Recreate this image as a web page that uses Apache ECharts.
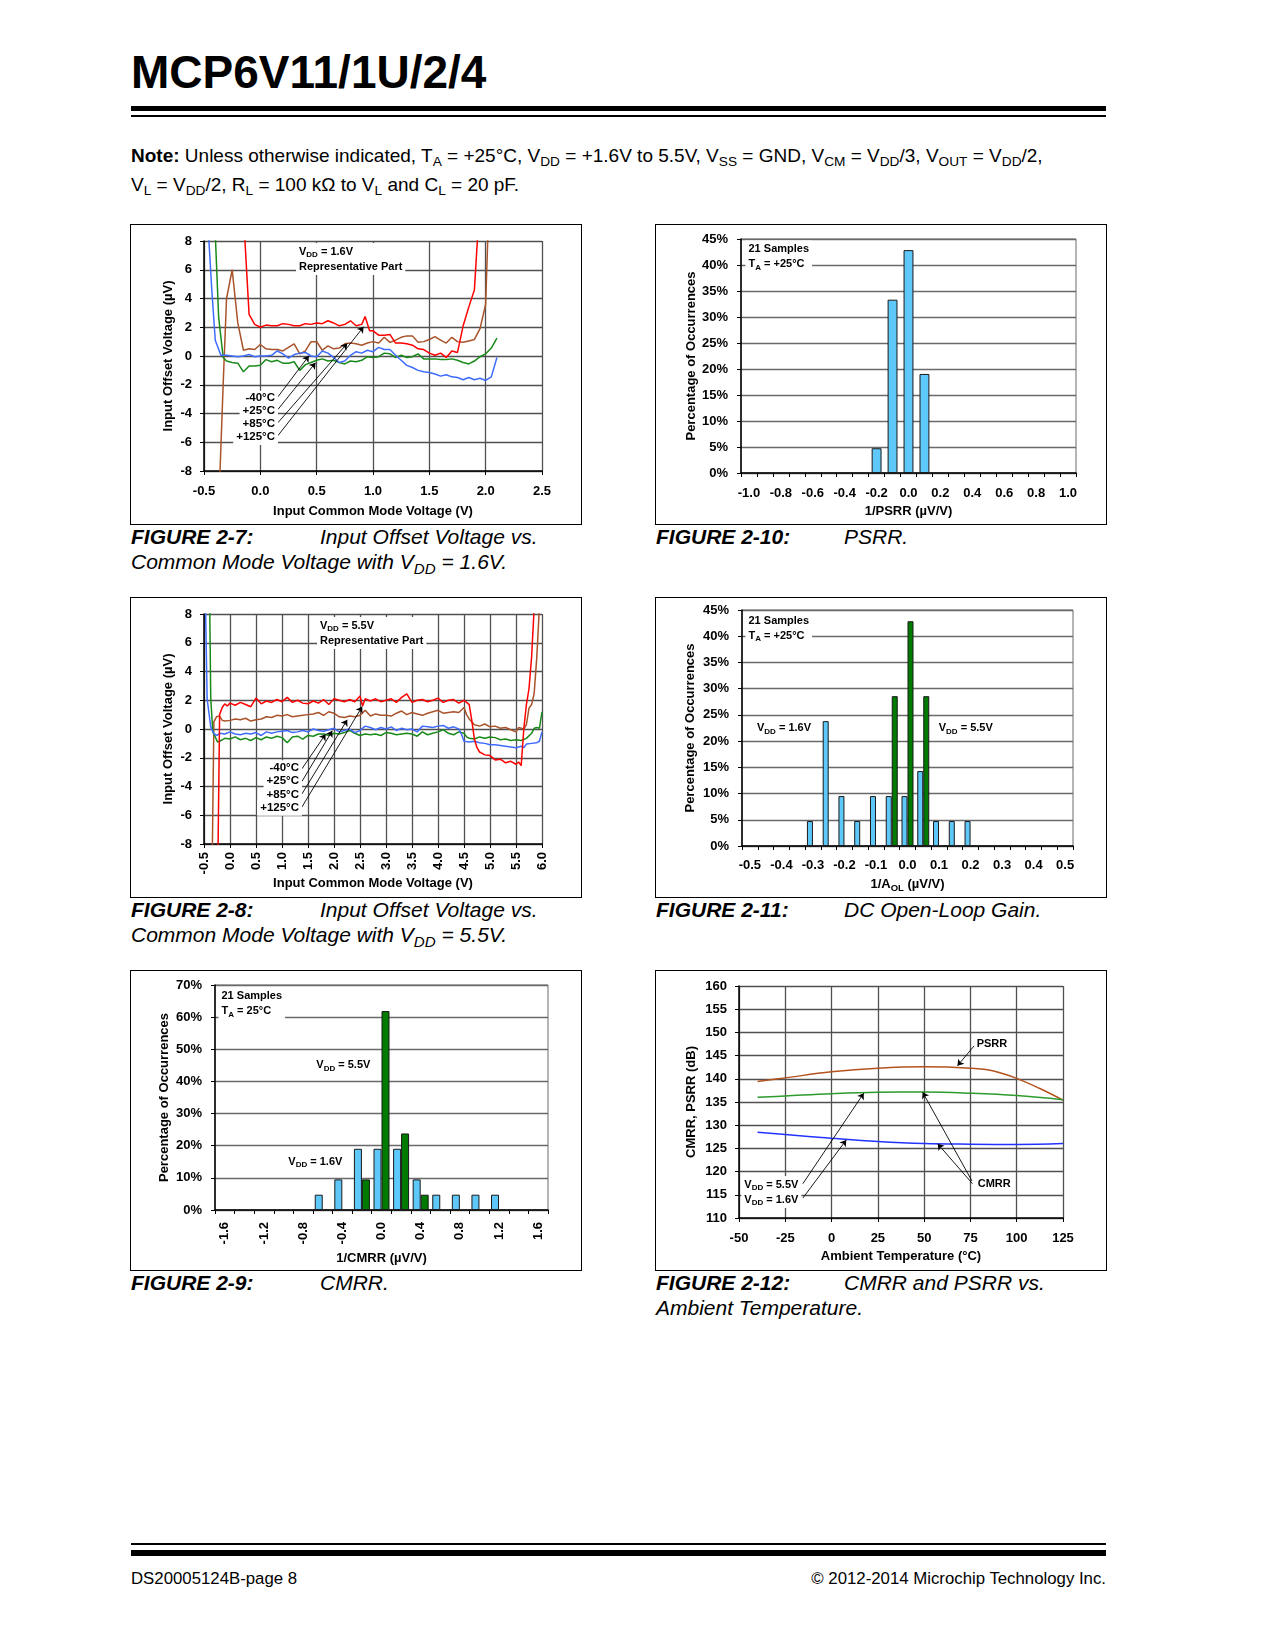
<!DOCTYPE html>
<html><head><meta charset="utf-8">
<script src="https://cdn.jsdelivr.net/npm/echarts/dist/echarts.min.js"></script>
<style>
html,body{margin:0;padding:0;background:#fff;}
body{width:1275px;height:1650px;position:relative;font-family:"Liberation Sans",Arial,Helvetica,sans-serif;color:#000;overflow:hidden;}
.abs{position:absolute;white-space:nowrap;}
.fig{position:absolute;width:450px;height:299px;outline:1px solid #000;}
.cap{position:absolute;font-size:21px;line-height:25px;font-style:italic;white-space:nowrap;}
.cap b{font-weight:bold;}
sub{font-size:0.72em;vertical-align:-0.3em;line-height:0;}
</style></head>
<body>
<div class="abs" style="left:131px;top:48.5px;font-size:46px;line-height:46px;font-weight:bold;">MCP6V11/1U/2/4</div>
<div class="abs" style="left:131px;top:105.5px;width:975px;height:5.5px;background:#000;"></div>
<div class="abs" style="left:131px;top:115px;width:975px;height:2px;background:#000;"></div>
<div class="abs" style="left:131px;top:144.5px;font-size:19px;line-height:22px;"><b>Note:</b> Unless otherwise indicated, T<sub>A</sub> = +25°C, V<sub>DD</sub> = +1.6V to 5.5V, V<sub>SS</sub> = GND, V<sub>CM</sub> = V<sub>DD</sub>/3, V<sub>OUT</sub> = V<sub>DD</sub>/2,</div>
<div class="abs" style="left:131px;top:173.5px;font-size:19px;line-height:22px;">V<sub>L</sub> = V<sub>DD</sub>/2, R<sub>L</sub> = 100 kΩ to V<sub>L</sub> and C<sub>L</sub> = 20 pF.</div>

<div id="c1" class="fig" style="left:131px;top:225px;"></div>
<div id="c2" class="fig" style="left:656px;top:225px;"></div>
<div id="c3" class="fig" style="left:131px;top:598px;"></div>
<div id="c4" class="fig" style="left:656px;top:598px;"></div>
<div id="c5" class="fig" style="left:131px;top:971px;"></div>
<div id="c6" class="fig" style="left:656px;top:971px;"></div>

<div class="cap" style="left:131px;top:524px;"><b>FIGURE 2-7:</b></div>
<div class="cap" style="left:320px;top:524px;">Input Offset Voltage vs.</div>
<div class="cap" style="left:131px;top:548.5px;">Common Mode Voltage with V<sub>DD</sub> = 1.6V.</div>
<div class="cap" style="left:656px;top:524px;"><b>FIGURE 2-10:</b></div>
<div class="cap" style="left:844px;top:524px;">PSRR.</div>

<div class="cap" style="left:131px;top:897px;"><b>FIGURE 2-8:</b></div>
<div class="cap" style="left:320px;top:897px;">Input Offset Voltage vs.</div>
<div class="cap" style="left:131px;top:921.5px;">Common Mode Voltage with V<sub>DD</sub> = 5.5V.</div>
<div class="cap" style="left:656px;top:897px;"><b>FIGURE 2-11:</b></div>
<div class="cap" style="left:844px;top:897px;">DC Open-Loop Gain.</div>

<div class="cap" style="left:131px;top:1270px;"><b>FIGURE 2-9:</b></div>
<div class="cap" style="left:320px;top:1270px;">CMRR.</div>
<div class="cap" style="left:656px;top:1270px;"><b>FIGURE 2-12:</b></div>
<div class="cap" style="left:844px;top:1270px;">CMRR and PSRR vs.</div>
<div class="cap" style="left:656px;top:1294.5px;">Ambient Temperature.</div>

<div class="abs" style="left:131px;top:1543px;width:975px;height:2px;background:#000;"></div>
<div class="abs" style="left:131px;top:1550px;width:975px;height:6px;background:#000;"></div>
<div class="abs" style="left:131px;top:1568.5px;font-size:16.8px;line-height:19px;">DS20005124B-page 8</div>
<div class="abs" style="right:169px;top:1568.5px;font-size:16.8px;line-height:19px;">© 2012-2014 Microchip Technology Inc.</div>

<script>
// ---------------- DATA ----------------
// Figure 2-7 (VDD = 1.6V): [VCM (V), VOS (µV)]
const fig7_m40 = [[-0.46,8.5],[-0.43,4.5],[-0.4,1.1],[-0.35,0.05],[-0.3,0.05],[-0.25,0.0],[-0.2,-0.05],[-0.15,0.0],[-0.1,0.1],[-0.05,-0.05],[0.0,0.0],[0.05,0.0],[0.1,0.05],[0.15,0.35],[0.2,0.15],[0.25,-0.15],[0.3,0.1],[0.35,0.2],[0.4,0.25],[0.45,0.0],[0.5,-0.05],[0.55,0.35],[0.6,0.2],[0.65,-0.1],[0.7,-0.45],[0.75,-0.35],[0.8,0.05],[0.85,0.3],[0.9,0.2],[0.95,0.4],[1.0,0.3],[1.05,0.6],[1.1,0.45],[1.15,0.45],[1.2,0.05],[1.25,-0.3],[1.3,-0.65],[1.35,-0.8],[1.4,-1.0],[1.45,-1.1],[1.5,-1.15],[1.55,-1.25],[1.6,-1.4],[1.65,-1.3],[1.7,-1.45],[1.75,-1.5],[1.8,-1.65],[1.85,-1.5],[1.9,-1.65],[1.95,-1.55],[2.0,-1.7],[2.05,-1.45],[2.1,-0.1]];
const fig7_p25 = [[-0.4,8.5],[-0.37,2.7],[-0.33,-0.1],[-0.3,-0.35],[-0.25,-0.45],[-0.2,-0.5],[-0.15,-1.1],[-0.1,-0.7],[-0.05,-0.7],[0.0,-0.65],[0.05,-0.25],[0.1,-0.4],[0.15,-0.3],[0.2,-0.5],[0.25,-0.5],[0.3,-0.4],[0.35,-1.0],[0.4,-0.6],[0.45,-0.45],[0.5,-0.3],[0.55,-0.2],[0.6,-0.35],[0.65,-0.3],[0.7,-0.45],[0.75,-0.55],[0.8,-0.35],[0.85,-0.4],[0.9,-0.3],[0.95,-0.05],[1.0,-0.1],[1.05,-0.05],[1.1,0.2],[1.15,0.15],[1.2,-0.1],[1.25,0.05],[1.3,-0.1],[1.35,-0.05],[1.4,0.15],[1.45,-0.2],[1.5,-0.2],[1.55,-0.2],[1.6,-0.25],[1.65,-0.25],[1.7,-0.2],[1.75,-0.3],[1.8,-0.45],[1.85,-0.55],[1.9,-0.35],[1.95,-0.05],[2.0,0.15],[2.05,0.55],[2.1,1.25]];
const fig7_p85 = [[-0.36,-8.5],[-0.33,-2.0],[-0.3,4.0],[-0.25,6.0],[-0.2,2.3],[-0.15,0.4],[-0.1,0.5],[-0.05,0.45],[0.0,0.8],[0.05,0.5],[0.1,0.45],[0.15,0.45],[0.2,0.35],[0.25,0.6],[0.3,0.85],[0.35,0.15],[0.4,0.35],[0.45,1.0],[0.5,1.0],[0.55,0.4],[0.6,0.7],[0.65,0.5],[0.7,0.55],[0.75,0.85],[0.8,0.9],[0.85,0.85],[0.9,0.75],[0.95,0.9],[1.0,1.0],[1.05,0.9],[1.1,1.3],[1.15,0.95],[1.2,1.1],[1.25,1.3],[1.3,1.4],[1.35,1.4],[1.4,0.95],[1.45,1.0],[1.5,1.15],[1.55,1.35],[1.6,1.1],[1.65,0.9],[1.7,1.3],[1.75,1.0],[1.8,0.95],[1.85,1.05],[1.9,1.15],[1.95,1.9],[2.0,3.6],[2.02,8.5]];
const fig7_p125 = [[-0.14,8.5],[-0.1,2.9],[-0.05,2.2],[0.0,2.0],[0.05,2.15],[0.1,2.1],[0.15,2.1],[0.2,2.25],[0.25,2.2],[0.3,2.1],[0.35,2.1],[0.4,2.25],[0.45,2.2],[0.5,2.3],[0.55,2.25],[0.6,2.45],[0.65,2.3],[0.7,2.1],[0.75,2.2],[0.8,2.45],[0.85,2.1],[0.9,2.2],[0.93,2.75],[0.97,1.75],[1.0,1.75],[1.05,1.45],[1.1,1.45],[1.15,1.5],[1.2,0.9],[1.25,0.9],[1.3,0.85],[1.35,0.75],[1.4,0.5],[1.45,0.45],[1.5,0.2],[1.55,0.05],[1.6,0.2],[1.65,-0.1],[1.7,0.35],[1.75,0.25],[1.8,2.1],[1.85,3.4],[1.9,4.6],[1.93,8.5]];
const fig7_arrowFrom = [[0.156,-2.84],[0.156,-3.72],[0.156,-4.64],[0.156,-5.54]];
const fig7_arrowTo = [[0.431,0.01],[0.49,-0.47],[0.771,0.87],[0.916,2.03]];

// Figure 2-8 (VDD = 5.5V)
const fig8_m40 = [[-0.47,8.5],[-0.44,2.1],[-0.37,0.15],[-0.33,-0.2],[-0.3,-0.35],[-0.25,-0.45],[-0.2,-0.3],[-0.1,-0.35],[0.0,-0.2],[0.1,-0.35],[0.2,-0.4],[0.3,-0.3],[0.4,-0.35],[0.5,-0.25],[0.6,-0.45],[0.7,-0.2],[0.8,-0.3],[0.9,-0.2],[1.0,-0.15],[1.1,-0.1],[1.2,-0.25],[1.3,-0.2],[1.4,-0.1],[1.5,-0.2],[1.6,0.0],[1.7,-0.1],[1.8,-0.15],[1.9,-0.05],[2.0,0.05],[2.1,-0.2],[2.2,-0.1],[2.3,0.0],[2.4,-0.25],[2.5,-0.1],[2.6,0.2],[2.7,0.1],[2.8,-0.05],[2.9,0.1],[3.0,0.0],[3.1,0.15],[3.2,-0.1],[3.3,0.05],[3.4,-0.05],[3.5,0.0],[3.6,-0.2],[3.7,0.2],[3.8,0.15],[3.9,0.1],[4.0,0.2],[4.1,0.25],[4.2,0.05],[4.3,0.15],[4.4,0.0],[4.45,-0.35],[4.5,-0.85],[4.6,-0.9],[4.7,-0.85],[4.8,-0.95],[4.9,-1.0],[5.0,-1.1],[5.1,-1.1],[5.2,-1.15],[5.3,-1.2],[5.4,-1.25],[5.5,-1.3],[5.6,-1.2],[5.65,-1.3],[5.7,-1.05],[5.8,-1.0],[5.9,-0.95],[5.95,-0.85],[6.0,-0.2]];
const fig8_p25 = [[-0.39,8.5],[-0.37,2.1],[-0.33,-0.2],[-0.24,-0.9],[-0.2,-0.85],[-0.1,-0.65],[0.0,-0.7],[0.1,-0.55],[0.2,-0.75],[0.3,-0.65],[0.4,-0.8],[0.5,-0.6],[0.6,-0.75],[0.7,-0.55],[0.8,-0.65],[0.9,-0.5],[1.0,-0.6],[1.1,-0.95],[1.2,-0.55],[1.3,-0.5],[1.4,-0.7],[1.5,-0.45],[1.6,-0.5],[1.7,-0.35],[1.8,-0.35],[1.9,-0.45],[2.0,-0.3],[2.1,-0.35],[2.2,-0.25],[2.3,-0.1],[2.4,-0.3],[2.5,-0.45],[2.6,-0.35],[2.7,-0.4],[2.8,-0.35],[2.9,-0.45],[3.0,-0.25],[3.1,-0.3],[3.2,-0.4],[3.3,-0.35],[3.4,-0.3],[3.5,-0.35],[3.6,-0.5],[3.7,-0.2],[3.8,-0.4],[3.9,-0.3],[4.0,-0.2],[4.1,-0.05],[4.2,-0.3],[4.3,-0.4],[4.4,-0.2],[4.5,-0.3],[4.55,-0.55],[4.6,-0.65],[4.7,-0.7],[4.8,-0.55],[4.9,-0.65],[5.0,-0.55],[5.1,-0.6],[5.2,-0.75],[5.3,-0.7],[5.4,-0.8],[5.5,-0.75],[5.6,-0.8],[5.7,-0.65],[5.8,-0.3],[5.85,0.05],[5.9,0.1],[5.95,0.05],[6.0,1.2]];
const fig8_p85 = [[-0.34,-8.5],[-0.31,0.5],[-0.26,0.85],[-0.2,0.9],[-0.15,0.6],[-0.1,0.55],[0.0,0.6],[0.1,0.7],[0.2,0.65],[0.3,0.75],[0.4,0.55],[0.5,0.65],[0.6,0.7],[0.7,0.85],[0.8,0.8],[0.9,0.95],[1.0,0.9],[1.1,1.0],[1.2,0.85],[1.3,0.9],[1.4,0.95],[1.5,1.0],[1.6,1.05],[1.7,1.15],[1.8,0.95],[1.9,1.2],[2.0,1.1],[2.1,0.85],[2.2,0.8],[2.3,0.9],[2.4,0.85],[2.5,0.95],[2.6,1.3],[2.7,0.9],[2.8,1.05],[2.9,0.95],[3.0,0.95],[3.1,0.9],[3.2,1.1],[3.3,1.25],[3.4,1.0],[3.5,1.15],[3.6,1.05],[3.7,0.95],[3.8,1.1],[3.9,1.2],[4.0,1.3],[4.1,1.1],[4.2,1.15],[4.3,1.2],[4.4,1.15],[4.5,1.5],[4.55,1.0],[4.6,0.7],[4.7,0.3],[4.8,0.2],[4.9,0.35],[5.0,0.15],[5.1,0.2],[5.2,0.05],[5.3,0.1],[5.4,-0.05],[5.5,-0.2],[5.55,0.1],[5.6,0.05],[5.65,0.0],[5.7,0.3],[5.75,1.45],[5.8,1.7],[5.85,2.5],[5.9,5.0],[5.95,8.5]];
const fig8_p125 = [[-0.23,-8.5],[-0.2,1.0],[-0.15,1.5],[-0.1,1.75],[-0.05,1.6],[0.0,1.8],[0.1,1.65],[0.2,1.85],[0.3,1.7],[0.4,1.55],[0.5,2.15],[0.6,1.75],[0.7,1.95],[0.8,1.85],[0.9,2.05],[1.0,1.9],[1.1,2.2],[1.2,1.85],[1.3,2.0],[1.4,1.8],[1.5,1.75],[1.6,1.95],[1.7,1.8],[1.8,2.05],[1.9,1.7],[2.0,2.1],[2.1,2.0],[2.2,1.9],[2.3,2.05],[2.4,1.9],[2.5,2.3],[2.55,1.6],[2.6,2.1],[2.7,1.95],[2.8,2.1],[2.9,1.9],[3.0,2.0],[3.1,2.1],[3.2,1.85],[3.3,2.2],[3.4,2.45],[3.5,1.85],[3.6,2.0],[3.7,2.05],[3.8,1.9],[3.9,2.0],[4.0,2.15],[4.1,1.85],[4.2,2.0],[4.3,2.05],[4.4,1.8],[4.5,2.0],[4.55,1.85],[4.6,1.7],[4.65,0.6],[4.7,-0.7],[4.75,-1.3],[4.8,-1.6],[4.9,-1.8],[5.0,-1.85],[5.1,-2.15],[5.2,-2.1],[5.3,-2.35],[5.4,-2.25],[5.5,-2.45],[5.55,-2.3],[5.6,-2.55],[5.65,0.0],[5.7,1.7],[5.75,2.8],[5.8,5.0],[5.85,8.5]];
const fig8_arrowFrom = [[1.383,-2.77],[1.383,-3.65],[1.383,-4.52],[1.383,-5.43]];
const fig8_arrowTo = [[1.838,-0.36],[1.966,-0.13],[2.254,0.64],[2.542,1.56]];

// Figure 2-10 PSRR histogram
const fig10_bins = ['-1.0','-0.9','-0.8','-0.7','-0.6','-0.5','-0.4','-0.3','-0.2','-0.1','0.0','0.1','0.2','0.3','0.4','0.5','0.6','0.7','0.8','0.9','1.0'];
const fig10_pct = [0,0,0,0,0,0,0,0,4.76,33.33,42.86,19.05,0,0,0,0,0,0,0,0,0];

// Figure 2-11 DC open-loop gain histogram
const fig11_bins = ['-0.5','-0.45','-0.4','-0.35','-0.3','-0.25','-0.2','-0.15','-0.1','-0.05','0.0','0.05','0.1','0.15','0.2','0.25','0.3','0.35','0.4','0.45','0.5'];
const fig11_vdd16 = [0,0,0,0,4.76,23.81,9.52,4.76,9.52,9.52,9.52,14.29,4.76,4.76,4.76,0,0,0,0,0,0];
const fig11_vdd55 = [0,0,0,0,0,0,0,0,0,28.57,42.86,28.57,0,0,0,0,0,0,0,0,0];

// Figure 2-9 CMRR histogram
const fig9_bins = ['-1.6','-1.4','-1.2','-1.0','-0.8','-0.6','-0.4','-0.2','0.0','0.2','0.4','0.6','0.8','1.0','1.2','1.4','1.6'];
const fig9_vdd16 = [0,0,0,0,0,4.76,9.52,19.05,19.05,19.05,9.52,4.76,4.76,4.76,4.76,0,0];
const fig9_vdd55 = [0,0,0,0,0,0,0,9.52,61.9,23.81,4.76,0,0,0,0,0,0];

// Figure 2-12 CMRR & PSRR vs temperature: [TA (°C), dB]
const fig12_psrr = [[-40,139.4],[-25,140.2],[0,141.5],[25,142.3],[50,142.6],[75,142.3],[87.5,141.7],[100,140.1],[112.5,137.9],[125,135.4]];
const fig12_cmrr55 = [[-40,136.0],[-25,136.3],[0,136.8],[25,137.1],[50,137.15],[75,136.9],[100,136.4],[125,135.5]];
const fig12_cmrr16 = [[-40,128.5],[-25,128.0],[0,127.2],[25,126.5],[50,126.05],[75,125.9],[100,125.85],[125,126.05]];
const fig12_arrowFrom = [[77.0,147.1],[76.1,117.4],[75.8,118.0],[-15.5,117.4],[-15.5,114.3]];
const fig12_arrowTo = [[68.0,142.8],[57.3,126.0],[49.2,137.1],[17.4,136.9],[7.9,126.8]];

// ---------------- STYLE HELPERS ----------------
const FONT = '"Liberation Sans", Arial, Helvetica, sans-serif';
const LBL = {color:'#000', fontFamily:FONT, fontWeight:'bold', fontSize:13};
const GRIDC = '#505050';
const RICH = {
  b:{fontFamily:FONT, fontWeight:'bold', fontSize:11, lineHeight:15, verticalAlign:'middle', color:'#000'},
  s:{fontFamily:FONT, fontWeight:'bold', fontSize:8, lineHeight:8, verticalAlign:'bottom', color:'#000'},
  n:{fontFamily:FONT, fontWeight:'bold', fontSize:11.5, lineHeight:13.3, verticalAlign:'middle', color:'#000'}
};
const RICH13 = {
  b:{fontFamily:FONT, fontWeight:'bold', fontSize:13, lineHeight:17, verticalAlign:'middle', color:'#000'},
  s:{fontFamily:FONT, fontWeight:'bold', fontSize:9.5, lineHeight:9, verticalAlign:'bottom', color:'#000'}
};
function txt(x, y, text, align, bg, vAlign){
  return {type:'text', x:x, y:y, z:100, silent:true,
    style:{text:text, rich:RICH, align:align||'left', verticalAlign:vAlign||'middle',
      backgroundColor: bg ? '#fff' : null, padding: bg ? [1,3,1,3] : 0}};
}
function arrows(from, to){
  return from.map((f,i)=>[{coord:f},{coord:to[i]}]);
}
function markArrows(from, to){
  return {silent:true, animation:false, symbol:['none','arrow'], symbolSize:6,
    label:{show:false}, emphasis:{disabled:true},
    lineStyle:{color:'#000', width:0.9, type:'solid'}, data:arrows(from,to)};
}
function lineSeries(data, color, extra){
  return Object.assign({type:'line', data:data, showSymbol:false, symbol:'none', clip:true,
    lineStyle:{color:color, width:1.5}, itemStyle:{color:color}, z:3}, extra||{});
}
function valAxis(o){
  return {type:'value', min:o.min, max:o.max, interval:o.interval,
    name:o.name, nameLocation:'middle', nameGap:o.nameGap, nameRotate:o.nameRotate||0,
    nameMoveOverlap:false,
    nameTextStyle:Object.assign({}, LBL, {rich:RICH13}),
    axisLine:{show:true, onZero:false, lineStyle:{color:'#000', width:1.5}},
    axisTick:{show:true, inside:false, length:4, lineStyle:{color:'#000', width:1}},
    splitLine:{show:o.split!==false, lineStyle:{color:GRIDC, width:1.3}},
    axisLabel:Object.assign({}, LBL, {margin:o.margin, rotate:o.rotate||0, formatter:o.fmt, showMinLabel:true, showMaxLabel:true})};
}
function catAxis(o){
  return {type:'category', data:o.data, boundaryGap:true,
    name:o.name, nameLocation:'middle', nameGap:o.nameGap, nameMoveOverlap:false,
    nameTextStyle:Object.assign({}, LBL, {rich:RICH13}),
    axisLine:{show:true, onZero:false, lineStyle:{color:'#000', width:1.5}},
    axisTick:{show:true, interval:0, length:4, alignWithLabel:false, lineStyle:{color:'#000', width:1}},
    splitLine:{show:false},
    axisLabel:Object.assign({}, LBL, {interval:1, margin:o.margin, rotate:o.rotate||0})};
}
function nz(arr){ return arr.map(v => v === 0 ? '-' : v); }
const BLUE_BAR = {color:'#5EC8FA', borderColor:'#1a1a1a', borderWidth:1};
const GREEN_BAR = {color:'#007A00', borderColor:'#1a1a1a', borderWidth:1};
function pctAxis(max, interval, gap){
  const a = valAxis({min:0, max:max, interval:interval, margin:13, name:'Percentage of Occurrences', nameGap:gap, nameRotate:90, fmt:'{value}%'});
  a.splitLine.lineStyle = {color:'#6a6a6a', width:1.3};
  return a;
}
function make(id, option){
  const c = echarts.init(document.getElementById(id), null, {renderer:'canvas', width:450, height:299});
  option.animation = false;
  c.setOption(option);
}
const fmt1 = v => v.toFixed(1);

// ---------------- FIGURE 2-7 ----------------
make('c1', {
  grid:{left:73, right:39, top:16, bottom:53, outerBoundsMode:'none'},
  xAxis: valAxis({min:-0.5, max:2.5, interval:0.5, margin:14, fmt:fmt1, name:'Input Common Mode Voltage (V)', nameGap:34}),
  yAxis: valAxis({min:-8, max:8, interval:2, margin:12, name:'Input Offset Voltage (µV)', nameGap:29, nameRotate:90}),
  series:[
    lineSeries(fig7_p85, '#A9532A'),
    lineSeries(fig7_p25, '#1A8A1A'),
    lineSeries(fig7_m40, '#3F6CFF'),
    lineSeries(fig7_p125, '#FF0000', {markLine: markArrows(fig7_arrowFrom, fig7_arrowTo)})
  ],
  graphic:[
    txt(165, 18, '{b|V}{s|DD}{b| = 1.6V}\n{b|Representative Part}', 'left', true, 'top'),
    txt(147, 173.3, '{n|-40°C}', 'right', true),
    txt(147, 186.3, '{n|+25°C}', 'right', true),
    txt(147, 199.3, '{n|+85°C}', 'right', true),
    txt(147, 212.3, '{n|+125°C}', 'right', true)
  ]
});

// ---------------- FIGURE 2-10 ----------------
make('c2', {
  grid:{left:85, right:30, top:14, bottom:51, show:true, borderColor:'#6a6a6a', borderWidth:1, outerBoundsMode:'none'},
  xAxis: catAxis({data:fig10_bins, margin:14, name:'1/PSRR (µV/V)', nameGap:32}),
  yAxis: pctAxis(45, 5, 43),
  series:[{type:'bar', data:nz(fig10_pct), barWidth:'62%', itemStyle:BLUE_BAR}],
  graphic:[ txt(89.5, 15.5, '{b|21 Samples}\n{b|T}{s|A}{b| = +25°C}', 'left', true, 'top') ]
});

// ---------------- FIGURE 2-8 ----------------
make('c3', {
  grid:{left:73, right:39, top:16, bottom:53, outerBoundsMode:'none'},
  xAxis: valAxis({min:-0.5, max:6.0, interval:0.5, margin:8, rotate:90, fmt:fmt1, name:'Input Common Mode Voltage (V)', nameGap:33}),
  yAxis: valAxis({min:-8, max:8, interval:2, margin:12, name:'Input Offset Voltage (µV)', nameGap:29, nameRotate:90}),
  series:[
    lineSeries(fig8_p85, '#A9532A'),
    lineSeries(fig8_p25, '#1A8A1A'),
    lineSeries(fig8_m40, '#3F6CFF'),
    lineSeries(fig8_p125, '#FF0000', {markLine: markArrows(fig8_arrowFrom, fig8_arrowTo)})
  ],
  graphic:[
    txt(186, 19, '{b|V}{s|DD}{b| = 5.5V}\n{b|Representative Part}', 'left', true, 'top'),
    txt(171, 170, '{n|-40°C}', 'right', true),
    txt(171, 183.3, '{n|+25°C}', 'right', true),
    txt(171, 196.7, '{n|+85°C}', 'right', true),
    txt(171, 210, '{n|+125°C}', 'right', true)
  ]
});

// ---------------- FIGURE 2-11 ----------------
make('c4', {
  grid:{left:86, right:33, top:12, bottom:51, show:true, borderColor:'#6a6a6a', borderWidth:1, outerBoundsMode:'none'},
  xAxis: catAxis({data:fig11_bins, margin:13, name:'{b|1/A}{s|OL}{b| (µV/V)}', nameGap:30}),
  yAxis: pctAxis(45, 5, 45),
  series:[
    {type:'bar', data:nz(fig11_vdd16), barWidth:6, barGap:'0%', itemStyle:BLUE_BAR},
    {type:'bar', data:nz(fig11_vdd55), barWidth:6, barGap:'0%', itemStyle:GREEN_BAR}
  ],
  graphic:[
    txt(89.5, 14, '{b|21 Samples}\n{b|T}{s|A}{b| = +25°C}', 'left', true, 'top'),
    txt(101, 130, '{b|V}{s|DD}{b| = 1.6V}'),
    txt(282.7, 130, '{b|V}{s|DD}{b| = 5.5V}')
  ]
});

// ---------------- FIGURE 2-9 ----------------
make('c5', {
  grid:{left:84, right:33, top:14, bottom:60, show:true, borderColor:'#6a6a6a', borderWidth:1, outerBoundsMode:'none'},
  xAxis: catAxis({data:fig9_bins, margin:12, rotate:90, name:'1/CMRR (µV/V)', nameGap:42}),
  yAxis: pctAxis(70, 10, 44),
  series:[
    {type:'bar', data:nz(fig9_vdd16), barWidth:8, barGap:'0%', itemStyle:BLUE_BAR},
    {type:'bar', data:nz(fig9_vdd55), barWidth:8, barGap:'0%', itemStyle:GREEN_BAR}
  ],
  graphic:[
    txt(87.5, 16.5, '{b|21 Samples}\n{b|T}{s|A}{b| = 25°C}', 'left', true, 'top'),
    txt(185.3, 94.3, '{b|V}{s|DD}{b| = 5.5V}'),
    txt(157.3, 190.7, '{b|V}{s|DD}{b| = 1.6V}')
  ]
});

// ---------------- FIGURE 2-12 ----------------
make('c6', {
  grid:{left:83, right:43, top:15, bottom:52, outerBoundsMode:'none'},
  xAxis: valAxis({min:-50, max:125, interval:25, margin:14, name:'Ambient Temperature (°C)', nameGap:32}),
  yAxis: valAxis({min:110, max:160, interval:5, margin:12, name:'CMRR, PSRR (dB)', nameGap:41, nameRotate:90}),
  series:[
    lineSeries(fig12_psrr, '#B4531E', {smooth:0.4}),
    lineSeries(fig12_cmrr55, '#2E9B2E', {smooth:0.4}),
    lineSeries(fig12_cmrr16, '#2233FF', {smooth:0.4, markLine: markArrows(fig12_arrowFrom, fig12_arrowTo)})
  ],
  graphic:[
    txt(320.7, 73.3, '{b|PSRR}'),
    txt(321.7, 212.7, '{b|CMRR}'),
    txt(85.3, 205, '{b|V}{s|DD}{b| = 5.5V}\n{b|V}{s|DD}{b| = 1.6V}', 'left', true, 'top')
  ]
});
</script>
</body></html>
